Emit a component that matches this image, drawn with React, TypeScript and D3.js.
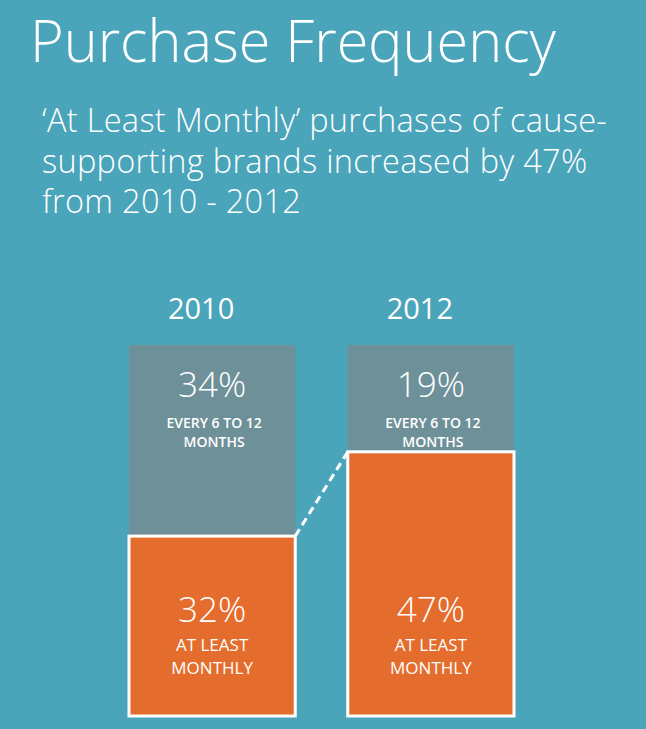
import React from "react";
import * as d3 from "d3";

const years = ["2010", "2012"];
const monthly = [32, 47];
const halfYearly = [34, 19];
const monthlyLabel = ["AT LEAST", "MONTHLY"];
const halfYearlyLabel = ["EVERY 6 TO 12", "MONTHS"];
const subtitleLines = [
    "\u2018At Least Monthly\u2019 purchases of cause-",
    "supporting brands increased by 47%",
    "from 2010 - 2012",
];

const WIDTH = 646;
const HEIGHT = 729;
const BG = "#4aa4ba";
const GREY = "#6e9099";
const ORANGE = "#e46d2e";
const FONT = "'Open Sans', 'Noto Sans', sans-serif";

export default function App() {
    const x = d3.scaleBand<string>().domain(years).range([129, 514]).paddingInner(0.24);
    const y = d3.scaleLinear().domain([0, 66]).range([716, 345]);
    const bw = x.bandwidth();
    const top = y(66);

    const bars = years.map((yr, i) => {
        const x0 = x(yr)!;
        const orangeTop = y(monthly[i]);
        const greyTop = y(monthly[i] + halfYearly[i]);
        return { yr, i, x0, orangeTop, greyTop, cx: x0 + bw / 2 };
    });

    return (
        <svg width={WIDTH} height={HEIGHT} style={{ display: "block", background: BG }}>
            <style>{"body{margin:0}"}</style>
            <rect width={WIDTH} height={HEIGHT} fill={BG} />

            <text x={30} y={62} fill="#fff" fontFamily={FONT} fontWeight={300} fontSize={58}
                textLength={526} lengthAdjust="spacingAndGlyphs">
                Purchase Frequency
            </text>
            {subtitleLines.map((line, k) => (
                <text key={k} x={42} y={132 + k * 40.5} fill="#fff" fontFamily={FONT}
                    fontWeight={300} fontSize={32.5} letterSpacing={0.3}>
                    {line}
                </text>
            ))}

            {bars.map((b) => (
                <g key={b.yr}>
                    <text x={b.cx - 11} y={top - 26} textAnchor="middle" fill="#fff"
                        fontFamily={FONT} fontSize={29}>
                        {b.yr}
                    </text>
                    {/* 6-12 month segment */}
                    <rect x={b.x0} y={b.greyTop} width={bw} height={b.orangeTop - b.greyTop} fill={GREY} />
                    <text x={b.cx} y={b.greyTop + 52} textAnchor="middle" fill="#fff"
                        fontFamily={FONT} fontWeight={300} fontSize={35}>
                        {halfYearly[b.i]}%
                    </text>
                    {halfYearlyLabel.map((t, k) => (
                        <text key={t} x={b.cx + 2} y={b.greyTop + 83 + k * 19} textAnchor="middle"
                            fill="#fff" fontFamily={FONT} fontWeight={600} fontSize={14}>
                            {t}
                        </text>
                    ))}
                    {/* at least monthly segment */}
                    <rect x={b.x0} y={b.orangeTop} width={bw} height={y(0) - b.orangeTop}
                        fill={ORANGE} stroke="#fff" strokeWidth={3} />
                    <text x={b.cx} y={y(0) - 94} textAnchor="middle" fill="#fff"
                        fontFamily={FONT} fontWeight={300} fontSize={35}>
                        {monthly[b.i]}%
                    </text>
                    {monthlyLabel.map((t, k) => (
                        <text key={t} x={b.cx} y={y(0) - 65 + k * 23} textAnchor="middle"
                            fill="#fff" fontFamily={FONT} fontSize={17}>
                            {t}
                        </text>
                    ))}
                </g>
            ))}

            {/* dashed connector between the monthly segments */}
            <line x1={bars[0].x0 + bw} y1={bars[0].orangeTop} x2={bars[1].x0} y2={bars[1].orangeTop}
                stroke="#fff" strokeWidth={3} strokeDasharray="8 5" />
        </svg>
    );
}
